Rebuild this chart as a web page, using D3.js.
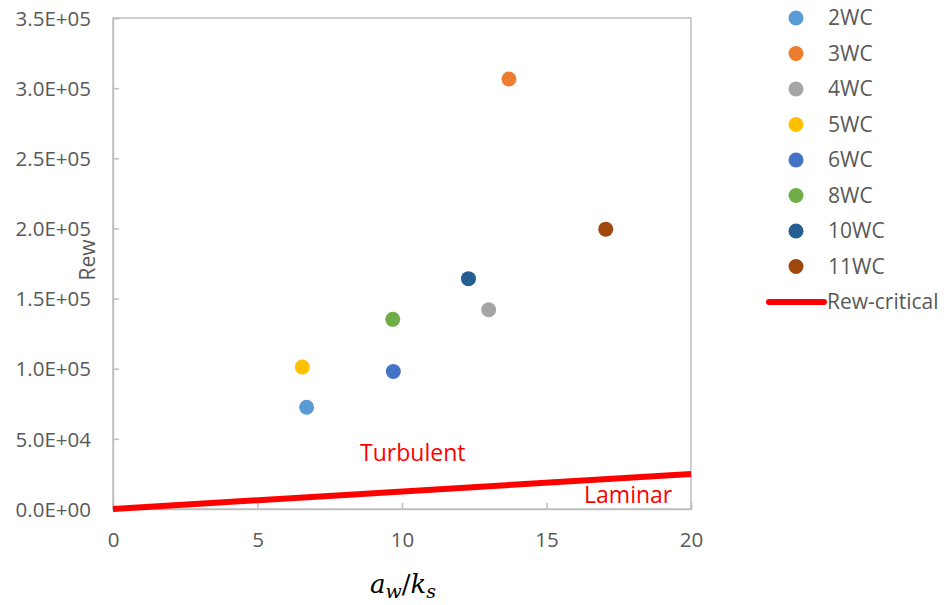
<!DOCTYPE html>
<meta charset="utf-8">
<style>
body { margin: 0; background: #fff; }
text { font-family: "Open Sans", "Noto Sans", sans-serif; }
.tick text { fill: #595959; font-size: 20.5px; }
.tick line, .domain { stroke: #BFBFBF; stroke-width: 1.5px; }
</style>
<body>
<div id="chart"></div>
<script src="https://d3js.org/d3.v7.min.js"></script>
<script>
// series
var series = ['2WC', '3WC', '4WC', '5WC', '6WC', '8WC', '10WC', '11WC'];
var awks   = [6.7, 13.7, 13.0, 6.55, 9.7, 9.68, 12.3, 17.05];
var rew    = [72500, 306500, 142000, 101200, 98000, 135200, 164200, 199500];
var colors = ['#5B9BD5', '#ED7D31', '#A5A5A5', '#FFC000', '#4472C4', '#70AD47', '#255E91', '#9E480E'];

// critical line
var critX = [0, 20];
var critY = [0, 25000];

var xTicks = [0, 5, 10, 15, 20];
var yTicks = [0, 50000, 100000, 150000, 200000, 250000, 300000, 350000];

var width = 944, height = 605;
var m = {left: 113, top: 18, right: 253, bottom: 96};

var svg = d3.select("#chart").append("svg").attr("width", width).attr("height", height);

var x = d3.scaleLinear().domain([0, 20]).range([m.left, width - m.right]);
var y = d3.scaleLinear().domain([0, 350000]).range([height - m.bottom, m.top]);

// frame
svg.append("rect")
  .attr("x", x(0)).attr("y", y(350000))
  .attr("width", x(20) - x(0)).attr("height", y(0) - y(350000))
  .attr("fill", "none").attr("stroke", "#BFBFBF").attr("stroke-width", 1.5);

var fmt = function(d){
  return d.toExponential(1).toUpperCase().replace("E+", "E+0");
};

var gy = svg.append("g").attr("transform", "translate(" + x(0) + ",0)")
  .call(d3.axisRight(y).tickValues(yTicks).tickSize(6).tickFormat(fmt));
gy.selectAll(".tick text").attr("x", -22).attr("text-anchor", "end").attr("dy", "0.35em");

var gx = svg.append("g").attr("transform", "translate(0," + y(0) + ")")
  .call(d3.axisTop(x).tickValues(xTicks).tickSize(6).tickFormat(d3.format("d")));
gx.selectAll(".tick text").attr("y", 31).attr("dy", "0.35em");

// region labels
svg.append("text").attr("x", x(8.55)).attr("y", y(34000)).attr("fill", "#FF0000")
  .style("font-size", "23px").text("Turbulent");
svg.append("text").attr("x", x(16.3)).attr("y", y(4500)).attr("fill", "#FF0000")
  .style("font-size", "23px").text("Laminar");

// critical line
svg.append("line")
  .attr("x1", x(critX[0])).attr("y1", y(critY[0]))
  .attr("x2", x(critX[1])).attr("y2", y(critY[1]))
  .attr("stroke", "#FF0000").attr("stroke-width", 6);

// points
svg.selectAll("circle.pt").data(series).enter().append("circle")
  .attr("class", "pt")
  .attr("cx", function(d, i){ return x(awks[i]); })
  .attr("cy", function(d, i){ return y(rew[i]); })
  .attr("r", 7.5)
  .attr("fill", function(d, i){ return colors[i]; });

// axis titles
svg.append("text")
  .attr("transform", "translate(95," + 260 + ") rotate(-90)")
  .attr("text-anchor", "middle").attr("fill", "#595959")
  .style("font-size", "21px").text("Rew");

var xt = svg.append("text").attr("x", 403).attr("y", 593)
  .attr("text-anchor", "middle").attr("fill", "#000")
  .style("font-family", "'DejaVu Serif', 'Liberation Serif', serif")
  .style("font-style", "italic").style("font-size", "26px");
xt.append("tspan").text("a");
xt.append("tspan").attr("dy", 5).style("font-size", "19px").text("w");
xt.append("tspan").attr("dy", -5).style("font-style", "normal").text("/");
xt.append("tspan").text("k");
xt.append("tspan").attr("dy", 5).style("font-size", "19px").text("s");

// legend
var leg = svg.append("g");
series.forEach(function(s, i){
  var ly = 18 + i * 35.5;
  leg.append("circle").attr("cx", 796).attr("cy", ly).attr("r", 7.5).attr("fill", colors[i]);
  leg.append("text").attr("x", 828).attr("y", ly).attr("dy", "0.35em")
    .attr("fill", "#595959").style("font-size", "21px").text(s);
});
var ly = 18 + series.length * 35.5;
leg.append("line").attr("x1", 769).attr("x2", 824).attr("y1", ly).attr("y2", ly)
  .attr("stroke", "#FF0000").attr("stroke-width", 6).attr("stroke-linecap", "round");
leg.append("text").attr("x", 827).attr("y", ly).attr("dy", "0.35em")
  .attr("fill", "#595959").style("font-size", "21px").text("Rew-critical");
</script>
</body>
